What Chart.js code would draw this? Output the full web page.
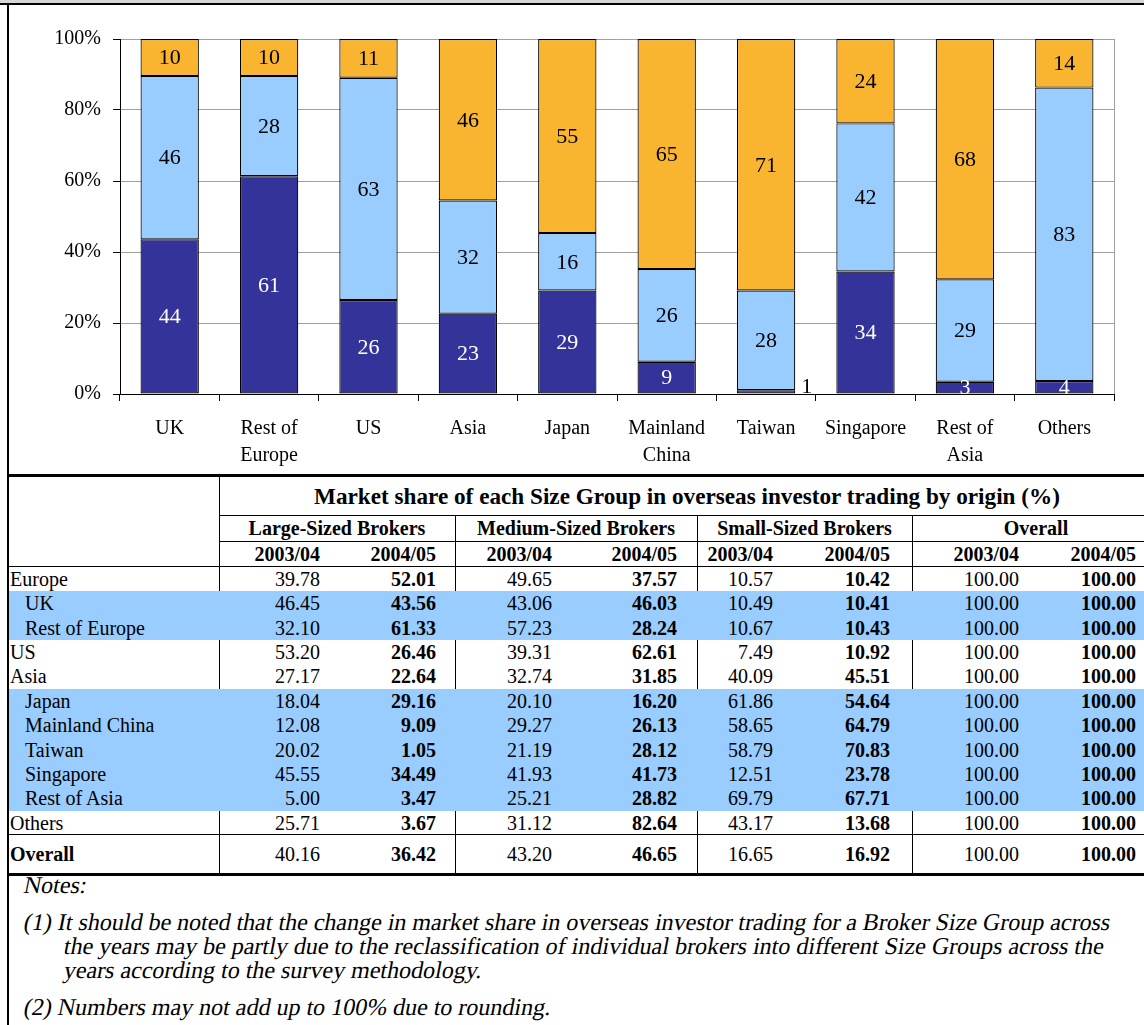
<!DOCTYPE html>
<html>
<head>
<meta charset="utf-8">
<script src="https://cdn.jsdelivr.net/npm/chart.js@4.4.1/dist/chart.umd.min.js"></script>
<style>
  html, body { margin: 0; padding: 0; background: #fff; }
  body {
    width: 1144px; height: 1025px; overflow: hidden; position: relative;
    font-family: "Liberation Serif", "Times New Roman", serif; color: #000;
  }
  #chart { position: absolute; left: 0; top: 0; z-index: 0; }
  .blk { position: absolute; }
  .txt { position: absolute; white-space: nowrap; font-size: 20px; }
  .b { font-weight: bold; }
  .note {
    position: absolute; left: 22px; white-space: nowrap; font-size: 24px; line-height: 24px;
    transform: skewX(-11deg); transform-origin: 0 100%;
  }
</style>
</head>
<body>
<canvas id="chart" width="1144" height="474"></canvas>
<div id="page"></div>
<script>
// ---- Chart data: share of each broker size group, 2004/05 (%) ----
const categories = ['UK', ['Rest of', 'Europe'], 'US', 'Asia', 'Japan', ['Mainland', 'China'], 'Taiwan', 'Singapore', ['Rest of', 'Asia'], 'Others'];
const largeBrokers  = [43.56, 61.33, 26.46, 22.64, 29.16,  9.09,  1.05, 34.49,  3.47,  3.67];
const mediumBrokers = [46.03, 28.24, 62.61, 31.85, 16.20, 26.13, 28.12, 41.73, 28.82, 82.64];
const smallBrokers  = [10.41, 10.43, 10.92, 45.51, 54.64, 64.79, 70.83, 23.78, 67.71, 13.68];
const yTicks = [0, 20, 40, 60, 80, 100];

// ---- Table data ----
const tableTitle = 'Market share of each Size Group in overseas investor trading by origin (%)';
const groupNames = ['Large-Sized Brokers', 'Medium-Sized Brokers', 'Small-Sized Brokers', 'Overall'];
const yearNames = ['2003/04', '2004/05'];
const origins = ['Europe', 'UK', 'Rest of Europe', 'US', 'Asia', 'Japan', 'Mainland China', 'Taiwan', 'Singapore', 'Rest of Asia', 'Others', 'Overall'];
const subOrigins = ['UK', 'Rest of Europe', 'Japan', 'Mainland China', 'Taiwan', 'Singapore', 'Rest of Asia'];
const large0304  = [39.78, 46.45, 32.10, 53.20, 27.17, 18.04, 12.08, 20.02, 45.55,  5.00, 25.71, 40.16];
const large0405  = [52.01, 43.56, 61.33, 26.46, 22.64, 29.16,  9.09,  1.05, 34.49,  3.47,  3.67, 36.42];
const medium0304 = [49.65, 43.06, 57.23, 39.31, 32.74, 20.10, 29.27, 21.19, 41.93, 25.21, 31.12, 43.20];
const medium0405 = [37.57, 46.03, 28.24, 62.61, 31.85, 16.20, 26.13, 28.12, 41.73, 28.82, 82.64, 46.65];
const small0304  = [10.57, 10.49, 10.67,  7.49, 40.09, 61.86, 58.65, 58.79, 12.51, 69.79, 43.17, 16.65];
const small0405  = [10.42, 10.41, 10.43, 10.92, 45.51, 54.64, 64.79, 70.83, 23.78, 67.71, 13.68, 16.92];
const overall0304 = [100, 100, 100, 100, 100, 100, 100, 100, 100, 100, 100, 100];
const overall0405 = [100, 100, 100, 100, 100, 100, 100, 100, 100, 100, 100, 100];

const notes = [
  ['Notes:'],
  ['(1) It should be noted that the change in market share in overseas investor trading for a Broker Size Group across',
   'the years may be partly due to the reclassification of individual brokers into different Size Groups across the',
   'years according to the survey methodology.'],
  ['(2) Numbers may not add up to 100% due to rounding.']
];

const SERIF = '"Liberation Serif", "Times New Roman", serif';
const DARK = '#333399', LIGHT = '#99CCFF', GOLD = '#F9B430', GRID = '#a0a0a0';

// ---- Value labels in the middle of each stacked segment ----
const segmentLabels = {
  id: 'segmentLabels',
  afterDatasetsDraw(chart) {
    const ctx = chart.ctx;
    ctx.save();
    ctx.font = '22px ' + SERIF;
    ctx.textBaseline = 'middle';
    chart.data.datasets.forEach((ds, di) => {
      const meta = chart.getDatasetMeta(di);
      meta.data.forEach((bar, i) => {
        const v = ds.data[i];
        const txt = String(Math.round(v));
        const p = bar.getProps(['x', 'y', 'base', 'width'], true);
        const cy = (p.y + p.base) / 2;
        if (v < 2) {
          // too thin to hold its label: put it beside the bar
          ctx.fillStyle = '#000';
          ctx.textAlign = 'left';
          ctx.fillText(txt, p.x + p.width / 2 + 6, cy - 5);
        } else {
          ctx.fillStyle = ds.labelColor;
          ctx.textAlign = 'center';
          ctx.fillText(txt, p.x, cy + 1);
        }
      });
    });
    ctx.restore();
  }
};

// ---- Grey right edge of the plot area ----
const plotEdge = {
  id: 'plotEdge',
  afterDraw(chart) {
    const a = chart.chartArea, ctx = chart.ctx;
    ctx.save();
    ctx.strokeStyle = GRID;
    ctx.lineWidth = 1;
    ctx.beginPath();
    ctx.moveTo(Math.round(a.right) + 0.5, a.top);
    ctx.lineTo(Math.round(a.right) + 0.5, a.bottom);
    ctx.stroke();
    ctx.restore();
  }
};

const segBorder = { borderColor: '#000', borderWidth: 1.2, borderSkipped: false };

new Chart(document.getElementById('chart'), {
  type: 'bar',
  data: {
    labels: categories,
    datasets: [
      Object.assign({ label: 'Large-Sized Brokers',  data: largeBrokers,  backgroundColor: DARK,  labelColor: '#fff' }, segBorder),
      Object.assign({ label: 'Medium-Sized Brokers', data: mediumBrokers, backgroundColor: LIGHT, labelColor: '#000' }, segBorder),
      Object.assign({ label: 'Small-Sized Brokers',  data: smallBrokers,  backgroundColor: GOLD,  labelColor: '#000' }, segBorder)
    ]
  },
  options: {
    responsive: false,
    animation: false,
    devicePixelRatio: 1,
    layout: { padding: { top: 39, right: 30, left: 0, bottom: 0 } },
    datasets: { bar: { barPercentage: 0.587, categoryPercentage: 1 } },
    plugins: { legend: { display: false }, tooltip: { enabled: false } },
    scales: {
      x: {
        stacked: true,
        offset: true,
        grid: { offset: true, drawOnChartArea: false, color: '#000', tickColor: '#000', tickLength: 7 },
        border: { color: '#000', width: 1 },
        ticks: { color: '#000', font: { family: SERIF, size: 20, lineHeight: 1.35 }, padding: 14, maxRotation: 0, autoSkip: false },
        afterFit(scale) { scale.height = 80; }
      },
      y: {
        stacked: true,
        min: 0, max: 100,
        afterBuildTicks(scale) { scale.ticks = yTicks.map(v => ({ value: v })); },
        grid: {
          color: (c) => (c.tick && c.tick.value === 0 ? '#000' : GRID),
          tickColor: '#000', tickLength: 7
        },
        border: { color: '#000', width: 1 },
        ticks: { color: '#000', font: { family: SERIF, size: 20 }, padding: 12, callback: (v) => v + '%' },
        afterFit(scale) { scale.width = 120; }
      }
    }
  },
  plugins: [segmentLabels, plotEdge]
});

// ---- Frame, table and notes ----
const page = document.getElementById('page');
function block(l, t, w, h, bg, z) {
  const d = document.createElement('div');
  d.className = 'blk';
  Object.assign(d.style, { left: l + 'px', top: t + 'px', width: w + 'px', height: h + 'px', background: bg, zIndex: z || 1 });
  page.appendChild(d);
  return d;
}
function text(str, opt) {
  const d = document.createElement('div');
  d.className = 'txt' + (opt.bold ? ' b' : '');
  d.textContent = str;
  const w = 900;
  let left = opt.x;
  if (opt.align === 'right') left = opt.x - w;
  if (opt.align === 'center') left = opt.x - w / 2;
  Object.assign(d.style, {
    left: left + 'px', width: w + 'px', textAlign: opt.align || 'left',
    top: opt.top + 'px', height: opt.h + 'px', lineHeight: opt.h + 'px', zIndex: 3
  });
  if (opt.size) d.style.fontSize = opt.size + 'px';
  page.appendChild(d);
}

// outer frame
block(0, 0, 1144, 3, '#d6d6d6', 5);
block(0, 3, 1144, 2, '#000', 5);
block(7, 3, 2, 1022, '#000', 5);
block(7, 474, 1137, 3, '#000', 5);

// table geometry
const groupLines = [219, 455, 697, 912];
const valueEdges = [320, 436, 552, 677, 773, 890, 1019, 1136];
const titleTop = 477, groupTop = 515, yearTop = 541, rowsTop = 566, rowH = 24.36;
const overallTop = rowsTop + 11 * rowH, tableBottom = 873;

// horizontal rules
block(219, groupTop, 925, 1, '#000', 1);
block(219, yearTop, 925, 1, '#000', 1);
block(9, rowsTop, 1135, 1, '#000', 1);
block(9, overallTop, 1135, 1, '#000', 1);
block(7, tableBottom, 1137, 3, '#000', 5);

// vertical rules
block(groupLines[0], titleTop, 1, tableBottom - titleTop, '#000', 1);
groupLines.slice(1).forEach(x => block(x, groupTop, 1, tableBottom - groupTop, '#000', 1));

// header text
text(tableTitle, { x: 687, align: 'center', top: titleTop + 1, h: groupTop - titleTop - 2, bold: true, size: 23.2 });
const groupCentres = [337, 576, 804.5, 1036];
groupNames.forEach((g, i) => text(g, { x: groupCentres[i], align: 'center', top: groupTop + 1, h: yearTop - groupTop - 1, bold: true }));
valueEdges.forEach((x, i) => text(yearNames[i % 2], { x: x, align: 'right', top: yearTop + 1, h: rowsTop - yearTop - 1, bold: true }));

// body rows
const columns = [large0304, large0405, medium0304, medium0405, small0304, small0405, overall0304, overall0405];
origins.forEach((name, r) => {
  const isOverall = r === origins.length - 1;
  const top = isOverall ? overallTop + 1 : rowsTop + 1 + r * rowH;
  const h = isOverall ? tableBottom - overallTop - 1 : rowH;
  const indented = subOrigins.includes(name);
  if (indented) block(9, top, 1135, rowH, LIGHT, 2);
  text(name, { x: indented ? 25 : 10, top: top, h: h, bold: isOverall });
  columns.forEach((col, c) => text(col[r].toFixed(2), { x: valueEdges[c], align: 'right', top: top, h: h, bold: c % 2 === 1 }));
});

// notes: hanging indent for wrapped lines
const noteStarts = [885, 922, 1007];
notes.forEach((para, p) => {
  para.forEach((line, k) => {
    const d = document.createElement('div');
    d.className = 'note';
    d.textContent = line;
    d.style.top = (noteStarts[p] - 12 + k * 24) + 'px';
    if (k > 0) d.style.left = '62px';
    page.appendChild(d);
  });
});
</script>
</body>
</html>
